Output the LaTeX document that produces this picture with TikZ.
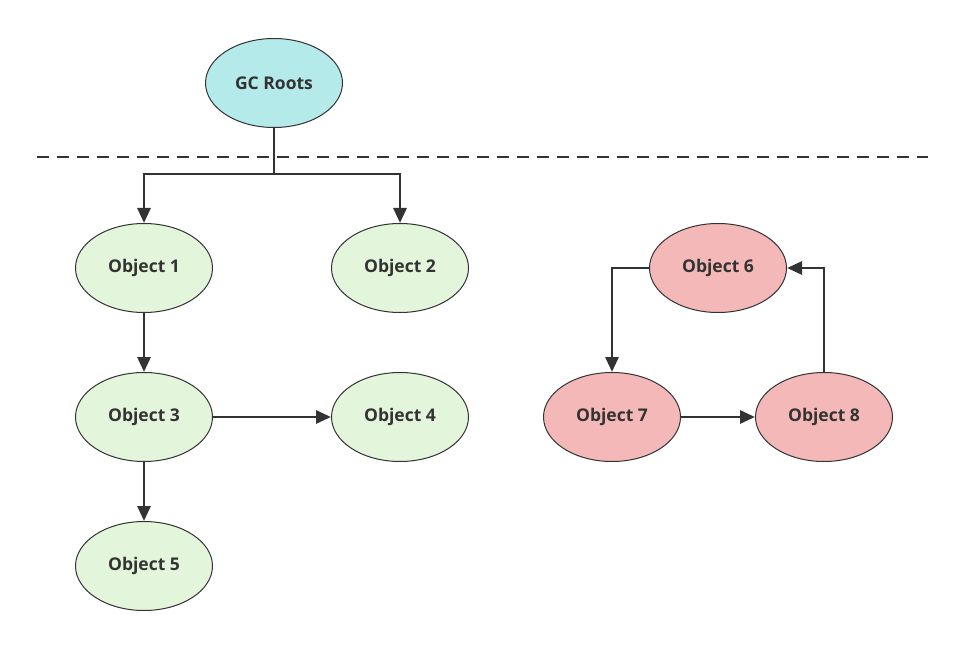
\documentclass[tikz,border=0pt]{standalone}
\usepackage{fontspec}
\setmainfont{Open Sans}
\usetikzlibrary{arrows.meta,shapes.geometric}
\definecolor{txt}{HTML}{333333}
\definecolor{rootfill}{HTML}{B5EAEA}
\definecolor{livefill}{HTML}{E3F5DA}
\definecolor{deadfill}{HTML}{F4B8B8}
\begin{document}
\begin{tikzpicture}[x=1pt,y=-1pt,
  obj/.style={ellipse,draw=txt,line width=1pt,minimum width=137pt,minimum height=89pt,inner sep=0pt,
    font=\fontsize{17.5}{20}\selectfont\bfseries,text=txt},
  root/.style={obj,fill=rootfill},
  live/.style={obj,fill=livefill},
  dead/.style={obj,fill=deadfill},
  conn/.style={draw=txt,line width=2.8pt,-{Triangle[length=15pt,width=13pt]}},
  plain/.style={draw=txt,line width=2.8pt}]
\path[use as bounding box,fill=white] (0,0) rectangle (972,647);
\draw[txt,line width=1.8pt,dash pattern=on 12pt off 8pt] (37,157) -- (928,157);
\node[root] (gc) at (274,83) {GC Roots};
\node[live] (o1) at (144,268) {Object 1};
\node[live] (o2) at (400,268) {Object 2};
\node[live] (o3) at (144,417) {Object 3};
\node[live] (o4) at (400,417) {Object 4};
\node[live] (o5) at (144,566) {Object 5};
\node[dead] (o6) at (718,268) {Object 6};
\node[dead] (o7) at (612,417) {Object 7};
\node[dead] (o8) at (824,417) {Object 8};
\coordinate (split) at (274,174);
\draw[plain] (gc.south) -- (split);
\draw[conn] (split) -| (o1.north);
\draw[conn] (split) -| (o2.north);
\draw[conn] (o1.south) -- (o3.north);
\draw[conn] (o3.east) -- (o4.west);
\draw[conn] (o3.south) -- (o5.north);
\draw[conn] (o6.west) -| (o7.north);
\draw[conn] (o7.east) -- (o8.west);
\draw[conn] (o8.north) |- (o6.east);
\end{tikzpicture}
\end{document}
